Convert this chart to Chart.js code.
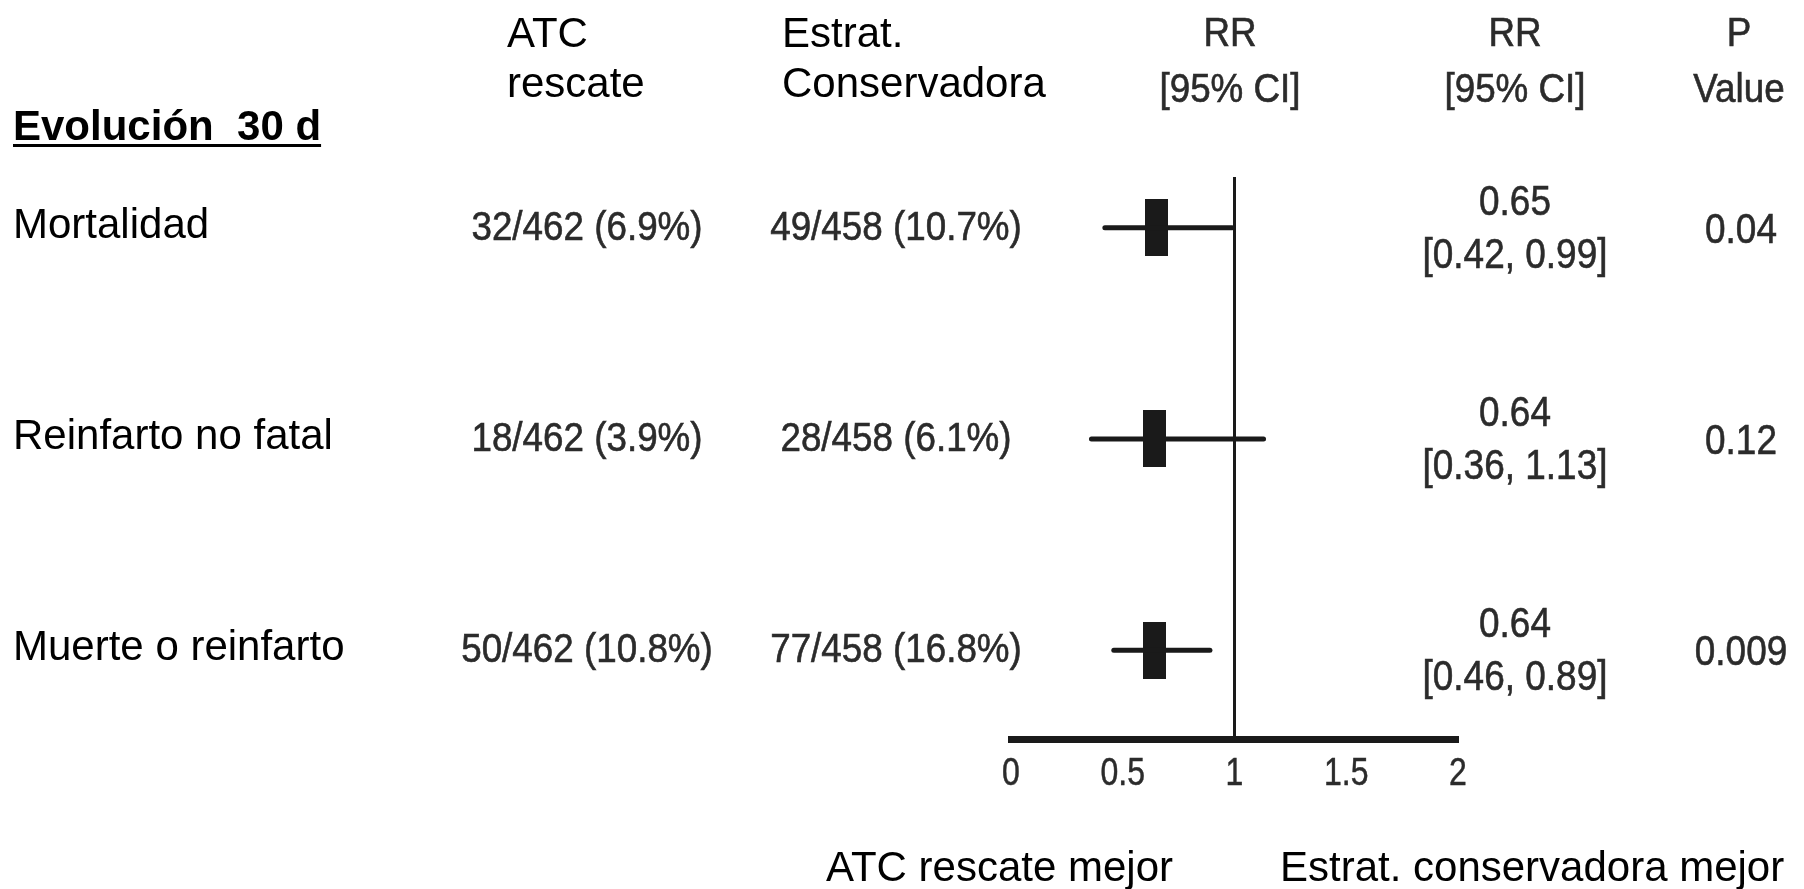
<!DOCTYPE html>
<html lang="es">
<head>
<meta charset="utf-8">
<title>Evolución 30 d - Forest plot</title>
<script src="https://cdn.jsdelivr.net/npm/chart.js@4.4.1/dist/chart.umd.min.js"></script>
<style>
  html, body { margin: 0; padding: 0; background: #fff; }
  #forest { display: block; }
</style>
</head>
<body>
<canvas id="forest" width="1804" height="889"></canvas>
<script>
// 1. Datos del ensayo (filas de arriba a abajo)
const outcomes = ['Mortalidad', 'Reinfarto no fatal', 'Muerte o reinfarto'];
const rowPos = [3, 2, 1];
const atcEvents = [32, 18, 50];
const atcTotal = [462, 462, 462];
const atcPct = [6.9, 3.9, 10.8];
const consEvents = [49, 28, 77];
const consTotal = [458, 458, 458];
const consPct = [10.7, 6.1, 16.8];
const rr = [0.65, 0.64, 0.64];
const ciLow = [0.42, 0.36, 0.46];
const ciHigh = [0.99, 1.13, 0.89];
const pValues = ['0.04', '0.12', '0.009'];
const xTicks = [0, 0.5, 1, 1.5, 2];
const tickLabels = ['0', '0.5', '1', '1.5', '2'];
const noEffect = 1;

// rango vertical del eje y (filas 3..1)
const Y_MIN = 0.58, Y_MAX = 3.24;

const INK = '#1a1a1a';
const GREY = '#2b2b2b';
const SANS = '"Liberation Sans", Arial, Helvetica, sans-serif';

// 2. Marcador rectangular del RR
const rrMarker = document.createElement('canvas');
rrMarker.width = 23;
rrMarker.height = 57;
(() => {
    const c = rrMarker.getContext('2d');
    c.fillStyle = INK;
    c.fillRect(0, 0, 23, 57);
})();

const fmtCount = (e, n, p) => `${e}/${n} (${p.toFixed(1)}%)`;
const fmtCI = (lo, hi) => `[${lo.toFixed(2)}, ${hi.toFixed(2)}]`;

// texto con compresión horizontal opcional
function put(ctx, str, x, y, opt) {
    ctx.save();
    ctx.translate(x, y);
    ctx.scale(opt.sx || 1, 1);
    ctx.font = opt.font;
    ctx.fillStyle = opt.color;
    ctx.textAlign = opt.align || 'left';
    ctx.textBaseline = 'alphabetic';
    ctx.fillText(str, 0, 0);
    if (opt.stroke) {
        ctx.strokeStyle = opt.color;
        ctx.lineWidth = opt.stroke;
        ctx.strokeText(str, 0, 0);
    }
    const w = ctx.measureText(str).width * (opt.sx || 1);
    ctx.restore();
    return w;
}

const black = { font: '42px ' + SANS, color: '#000' };
const greyHead = { font: '40px ' + SANS, color: GREY, sx: 0.92, align: 'center', stroke: 0.6 };
const greyCount = { font: '40px ' + SANS, color: GREY, sx: 0.92, align: 'center', stroke: 0.6 };
const greyVal = { font: '42px ' + SANS, color: GREY, sx: 0.88, align: 'center', stroke: 0.6 };
const greyTick = { font: '39px ' + SANS, color: GREY, sx: 0.82, align: 'center', stroke: 0.5 };

// 3. Tabla de texto alrededor del gráfico
const tablePlugin = {
    id: 'tablePlugin',
    afterDraw(chart) {
        const ctx = chart.ctx;
        const ys = chart.scales.y;
        const xs = chart.scales.x;

        // cabecera
        const tw = put(ctx, 'Evolución  30 d', 13, 140, { font: 'bold 42px ' + SANS, color: '#000' });
        ctx.fillStyle = '#000';
        ctx.fillRect(13, 144, tw, 3);
        put(ctx, 'ATC', 507, 47, black);
        put(ctx, 'rescate', 507, 97, black);
        put(ctx, 'Estrat.', 782, 47, black);
        put(ctx, 'Conservadora', 782, 97, black);
        put(ctx, 'RR', 1230, 46, greyHead);
        put(ctx, '[95% CI]', 1230, 102, greyHead);
        put(ctx, 'RR', 1515, 46, greyHead);
        put(ctx, '[95% CI]', 1515, 102, greyHead);
        put(ctx, 'P', 1739, 46, greyHead);
        put(ctx, 'Value', 1739, 102, greyHead);

        // filas
        outcomes.forEach((name, i) => {
            const py = ys.getPixelForValue(rowPos[i]);
            put(ctx, name, 13, py + 10, black);
            put(ctx, fmtCount(atcEvents[i], atcTotal[i], atcPct[i]), 587, py + 12, greyCount);
            put(ctx, fmtCount(consEvents[i], consTotal[i], consPct[i]), 896, py + 12, greyCount);
            put(ctx, rr[i].toFixed(2), 1515, py - 13, greyVal);
            put(ctx, fmtCI(ciLow[i], ciHigh[i]), 1515, py + 40, greyVal);
            put(ctx, pValues[i], 1741, py + 15, greyVal);
        });

        // etiquetas del eje x
        xs.ticks.forEach((t, i) => {
            put(ctx, tickLabels[i], xs.getPixelForValue(t.value), 785, greyTick);
        });

        put(ctx, 'ATC rescate mejor', 826, 881, black);
        put(ctx, 'Estrat. conservadora mejor', 1280, 881, black);
    }
};

// 4. Datasets: intervalos, línea de no efecto y RR
const whiskers = rr.map((_, i) => ({
    type: 'line',
    data: [{ x: ciLow[i], y: rowPos[i] }, { x: ciHigh[i], y: rowPos[i] }],
    borderColor: INK,
    borderWidth: 5,
    borderCapStyle: 'round',
    pointRadius: 0,
    clip: false
}));

const refLine = {
    type: 'line',
    data: [{ x: noEffect, y: Y_MAX }, { x: noEffect, y: Y_MIN }],
    borderColor: INK,
    borderWidth: 3,
    pointRadius: 0,
    clip: false
};

const points = {
    type: 'scatter',
    data: rr.map((v, i) => ({ x: v, y: rowPos[i] })),
    pointStyle: rrMarker,
    pointRadius: 12,
    clip: false
};

new Chart(document.getElementById('forest'), {
    type: 'scatter',
    data: { datasets: [refLine, ...whiskers, points] },
    options: {
        responsive: false,
        animation: false,
        events: [],
        layout: { padding: { left: 1011, right: 346, top: 177, bottom: 0 } },
        plugins: { legend: { display: false }, tooltip: { enabled: false } },
        scales: {
            x: {
                type: 'linear',
                min: 0,
                max: 2,
                afterBuildTicks: s => { s.ticks = xTicks.map(v => ({ value: v })); },
                afterFit: s => { s.height = 150; },
                grid: { display: false },
                border: { display: true, color: INK, width: 7 },
                ticks: { display: false }
            },
            y: {
                type: 'linear',
                min: Y_MIN,
                max: Y_MAX,
                display: false
            }
        }
    },
    plugins: [tablePlugin]
});
</script>
</body>
</html>
